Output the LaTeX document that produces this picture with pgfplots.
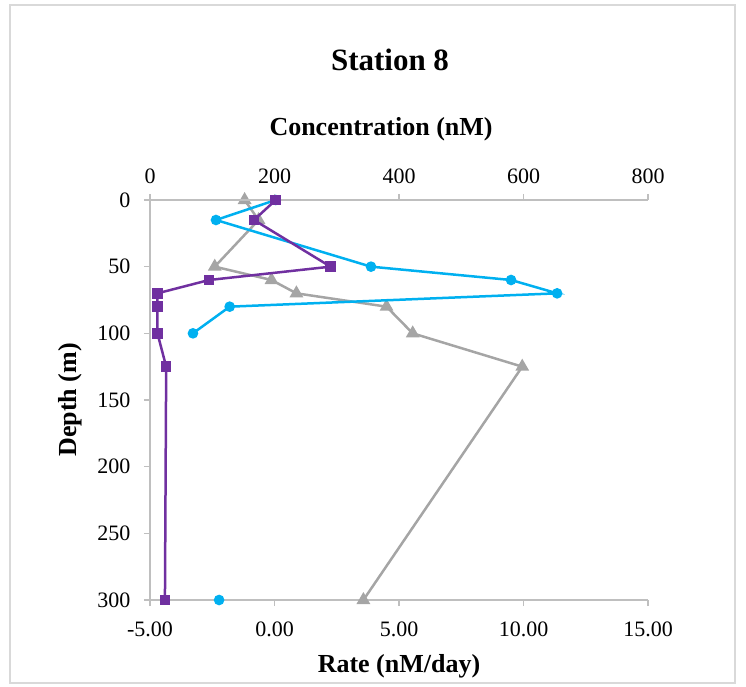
\documentclass[border=0pt]{standalone}
\usepackage{fontspec}
\setmainfont{Liberation Serif}
\usepackage{pgfplots}
\pgfplotsset{compat=1.18}
\definecolor{cblue}{HTML}{00B0F0}
\definecolor{cpurple}{HTML}{7030A0}
\definecolor{cgray}{HTML}{A5A5A5}
\definecolor{axgray}{HTML}{BFBFBF}
\definecolor{framegray}{HTML}{D9D9D9}

\begin{document}
\begin{tikzpicture}
\useasboundingbox (-150pt,-87pt) rectangle (596pt,600pt);
\draw[framegray, line width=1.5pt] (-140pt,-83pt) rectangle (585pt,595pt);
\pgfplotsset{
  base/.style={
    scale only axis, width=498pt, height=400pt,
    at={(0,0)}, anchor=south west,
    ymin=0, ymax=300, y dir=reverse,
    axis line style={axgray, line width=1.2pt, -},
    tick style={axgray, line width=1.2pt},
    major tick length=6pt, tick align=outside,
    tick label style={font=\fontsize{22}{26}\selectfont},
    label style={font=\bfseries\fontsize{26}{30}\selectfont},
    clip=false,
  },
}
% rate axis (bottom)
\begin{axis}[base,
  xmin=-5, xmax=15,
  axis x line*=bottom, axis y line*=left,
  xtick={-5,0,5,10,15}, xticklabels={-5.00,0.00,5.00,10.00,15.00},
  ytick={0,50,100,150,200,250,300}, yticklabels={0,50,100,150,200,250,300},
  xticklabel shift=12pt, yticklabel shift=10pt,
  xlabel={Rate (nM/day)}, ylabel={Depth (m)},
  xlabel style={at={(axis description cs:0.5,-0.18)}, anchor=base},
  ylabel style={at={(axis description cs:-0.16,0.5)}, anchor=center},
]
\addplot[cgray, line width=2.5pt, mark=triangle*, mark size=5.5pt] coordinates {
(-1.20,0) (-0.64,15) (-2.40,50) (-0.12,60) (0.88,70) (4.50,80) (5.55,100) (9.95,125) (3.57,300)
};
\end{axis}
% concentration axis (top)
\begin{axis}[base,
  xmin=0, xmax=800,
  axis x line*=top, axis y line=none,
  xtick={0,200,400,600,800}, xticklabels={0,200,400,600,800},
  xticklabel shift=7pt,
  xlabel={Concentration (nM)},
  xlabel style={at={(axis description cs:0.464,1.16)}, anchor=base},
  title={Station 8},
  title style={at={(axis description cs:0.482,1.3075)}, anchor=base, font=\bfseries\fontsize{31}{36}\selectfont},
  unbounded coords=jump,
]
\addplot[cblue, line width=2.5pt, mark=*, mark size=4pt] coordinates {
(202,0) (106,15) (355,50) (580,60) (654,70) (128,80) (69,100) (nan,125) (111,300)
};
\addplot[cpurple, line width=2.5pt, mark=square*, mark size=4pt] coordinates {
(202,0) (167,15) (290,50) (95,60) (12,70) (12,80) (12,100) (26,125) (24,300)
};
\end{axis}
\end{tikzpicture}
\end{document}
